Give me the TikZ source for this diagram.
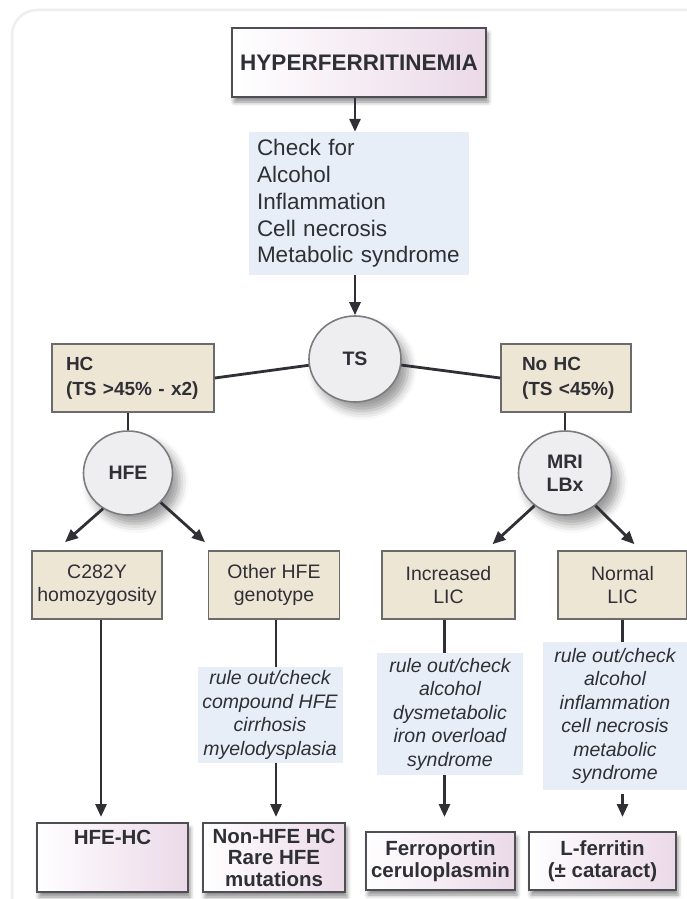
\documentclass[tikz,border=0pt]{standalone}
\usepackage{fontspec}
\setmainfont{Liberation Sans}
\usetikzlibrary{shapes.geometric,shadows.blur,arrows.meta}
\definecolor{ink}{HTML}{2F2F36}
\definecolor{tanfill}{HTML}{EEE6D5}
\definecolor{boxline}{HTML}{6B6B6B}
\definecolor{bluefill}{HTML}{E7EEF7}
\definecolor{pinkfill}{HTML}{EBD9E8}
\definecolor{circfill}{HTML}{EEEEF1}
\definecolor{circline}{HTML}{7C7C80}
\definecolor{framegray}{HTML}{EEEEEE}
\newcommand\checkfont{\fontsize{22.5}{26.7}\selectfont}
\newcommand\boxfont{\fontsize{19.5}{23}\selectfont}
\newcommand\hcfont{\fontsize{19}{25}\selectfont\bfseries}
\newcommand\rulefont{\fontsize{19.5}{23.5}\selectfont\itshape}
\newcommand\resultfont{\fontsize{20.5}{21.5}\selectfont\bfseries}
\newcommand\circfont{\fontsize{19.5}{23}\selectfont\bfseries}

\begin{document}
\begin{tikzpicture}[x=1pt,y=-1pt,
  every node/.style={text=ink},
  arr/.style={-{Triangle[length=13pt,width=11pt]},line width=2.8pt,draw=ink},
  link/.style={line width=2.8pt,draw=ink},
  tanbox/.style={draw=boxline,line width=1.6pt,fill=tanfill,inner sep=0pt,font=\boxfont,align=center},
  rulebox/.style={fill=bluefill,inner sep=0pt,font=\rulefont,align=center},
  resultbox/.style={draw=ink!85,line width=2pt,left color=white,right color=pinkfill,
    font=\resultfont,align=center,inner sep=0pt,
    blur shadow={shadow xshift=2pt,shadow yshift=-5pt,shadow blur radius=4pt,shadow opacity=45}},
  test/.style={ellipse,draw=circline,line width=1.6pt,fill=circfill,font=\circfont,align=center,inner sep=0pt,
    blur shadow={shadow xshift=7pt,shadow yshift=-9pt,shadow blur radius=9pt,shadow opacity=40}}]
  \useasboundingbox (0,0) rectangle (687,899);
  \draw[framegray,line width=2.5pt,rounded corners=25pt] (12,10) rectangle (720,930);
  % Top part of the Figure
  \node[resultbox,font=\fontsize{22.5}{26.7}\selectfont\bfseries,line width=2.6pt,
        minimum width=254pt,minimum height=69pt] (hyper) at (359,62.5) {HYPERFERRITINEMIA};
  \node[fill=bluefill,inner xsep=8pt,inner ysep=0pt,text width=204pt,minimum height=143pt,
        align=left,font=\checkfont] (check) at (359,203.5)
        {Check for\\Alcohol\\Inflammation\\Cell necrosis\\Metabolic syndrome};
  \node[test,minimum width=92pt,minimum height=86pt] (ts) at (355,359) {TS};
  \draw[arr] (hyper.south -| ts.north) -- (check.north -| ts.north);
  \draw[arr] (check.south -| ts.north) -- (ts.north);
  % Left-hand side part of the Figure
  \node[tanbox,font=\hcfont,align=left,text width=146pt,inner xsep=8pt,inner ysep=0pt,
        minimum height=68pt] (hc) at (133,378) {\hspace*{6pt}HC\\\hspace*{6pt}(TS >45\% - x2)};
  \node[test,minimum width=89pt,minimum height=84pt] (hfe) at (128,473) {HFE};
  \node[tanbox,minimum width=130pt,minimum height=68pt] (c282y) at (97,585) {C282Y\\homozygosity};
  \node[tanbox,minimum width=131pt,minimum height=68pt] (other) at (274,585) {Other HFE\\genotype};
  \node[rulebox,minimum width=145pt,minimum height=96pt] (rule1) at (270,715)
        {rule out/check\\compound HFE\\cirrhosis\\myelodysplasia};
  \node[resultbox,minimum width=151pt,text height=15pt,text depth=42pt,inner ysep=6pt] (hfehc) at (112.5,857.5) {HFE-HC};
  \node[resultbox,minimum width=142pt,minimum height=69pt] (nonhfe) at (274,857.5) {Non-HFE HC\\Rare HFE\\mutations};
  \draw[link] (ts) -- (hc.east);
  \draw[link] (hc.south -| hfe.north) -- (hfe.north);
  \draw[arr] (hfe.235) -- ([xshift=-32pt,yshift=8pt]c282y.north);
  \draw[arr] (hfe.318) -- ([xshift=-69pt,yshift=8pt]other.north);
  \draw[arr] ([xshift=4pt]c282y.south) -- ([xshift=4pt,yshift=5pt]c282y.south |- hfehc.north);
  \draw[link] ([xshift=2pt]other.south) -- ([xshift=2pt]other.south |- rule1.north);
  \draw[arr] ([xshift=2pt]other.south |- rule1.south) -- ([xshift=2pt,yshift=5pt]other.south |- nonhfe.north);
  % Right-hand side part of the Figure
  \node[tanbox,font=\hcfont,align=left,text width=110pt,inner xsep=10pt,inner ysep=0pt,
        minimum height=68pt] (nohc) at (566,378) {\hspace*{11pt}No HC\\\hspace*{11pt}(TS <45\%)};
  \node[test,minimum width=93pt,minimum height=84pt] (mri) at (565,473) {MRI\\LBx};
  \node[tanbox,minimum width=133pt,minimum height=68pt] (incr) at (448.5,585) {Increased\\LIC};
  \node[tanbox,minimum width=129pt,minimum height=68pt] (normal) at (622.5,585) {Normal\\LIC};
  \node[rulebox,minimum width=146pt,minimum height=122pt] (rule2) at (450,714)
        {rule out/check\\alcohol\\dysmetabolic\\iron overload\\syndrome};
  \node[rulebox,minimum width=144pt,minimum height=148pt] (rule3) at (615,716)
        {rule out/check\\alcohol\\inflammation\\cell necrosis\\metabolic\\syndrome};
  \node[resultbox,minimum width=149pt,minimum height=58pt] (ferro) at (440.5,861) {Ferroportin\\ceruloplasmin};
  \node[resultbox,minimum width=147pt,minimum height=58pt] (lferr) at (602.5,861) {L-ferritin\\(± cataract)};
  \draw[link] (ts) -- (nohc.west);
  \draw[link] (nohc.south -| mri.north) -- (mri.north);
  \draw[arr] (mri.227) -- ([xshift=44pt,yshift=6pt]incr.north);
  \draw[arr] (mri.313) -- ([xshift=12pt,yshift=6pt]normal.north);
  \draw[link] ([xshift=-4pt]incr.south) -- ([xshift=-4pt]incr.south |- rule2.north);
  \draw[arr] ([xshift=-4pt]incr.south |- rule2.south) -- ([xshift=-4pt,yshift=14pt]incr.south |- ferro.north);
  \draw[link] (normal.south) -- (normal.south |- rule3.north);
  \draw[arr] ([yshift=-4pt]normal.south |- rule3.south) -- ([yshift=14pt]normal.south |- lferr.north);
\end{tikzpicture}
\end{document}
